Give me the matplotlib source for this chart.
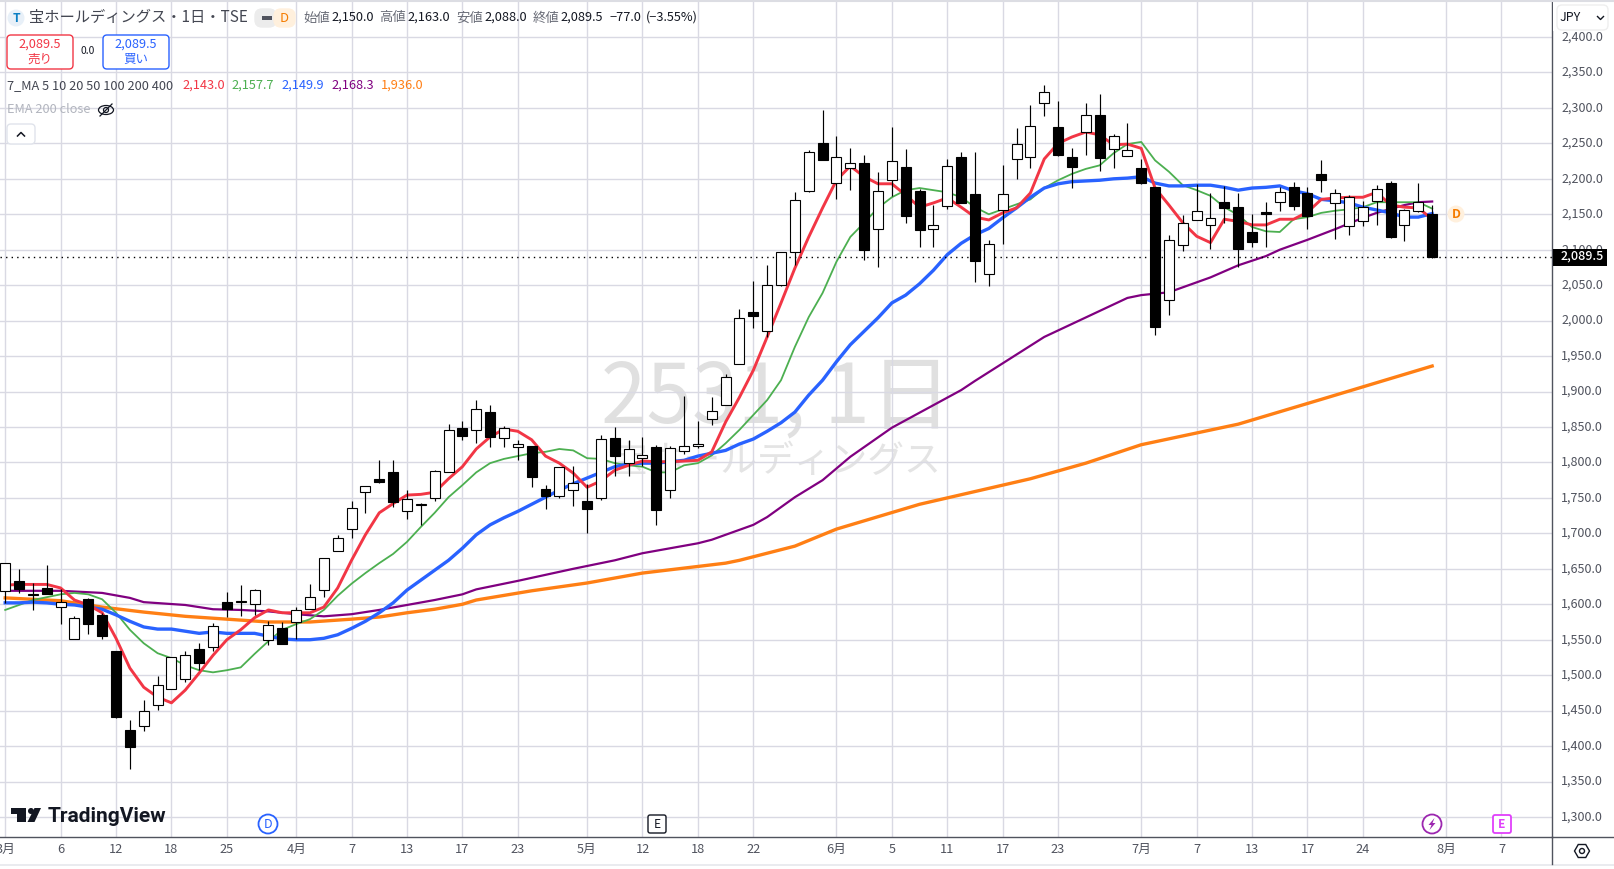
import numpy as np
import matplotlib
matplotlib.use('Agg')
import matplotlib.pyplot as plt
from matplotlib.patches import Circle, FancyBboxPatch, Polygon, Rectangle, RegularPolygon, Ellipse
from matplotlib.transforms import ScaledTranslation

plt.rcParams['font.family'] = ['Noto Sans CJK JP', 'DejaVu Sans']

# daily candles
candle_open = [1619,1633,1613,1623,1596,1551,1607,1585,1534,1423,1428,1458,1480,1495,1537,1540,1603,1603,1600,1550,
               1566,1575,1593,1620,1675,1706,1758,1776,1786,1731,1740,1750,1786,1849,1846,1871,1834,1822,1823,1762,
               1753,1761,1746,1750,1834,1799,1806,1822,1761,1816,1823,1861,1881,1939,2012,1985,2050,2097,2183,2250,
               2194,2215,2222,2129,2198,2217,2183,2129,2162,2231,2179,2066,2156,2228,2231,2307,2273,2231,2266,2290,
               2242,2232,2215,2188,2029,2107,2142,2135,2167,2160,2125,2153,2167,2188,2180,2207,2166,2133,2140,2169,
               2194,2135,2155,2150]
candle_high = [1658,1650,1630,1655,1621,1583,1609,1587,1534,1437,1465,1499,1526,1534,1545,1573,1617,1627,1621,1576,
               1575,1596,1629,1665,1697,1746,1767,1803,1803,1761,1743,1789,1854,1858,1888,1881,1851,1832,1823,1768,
               1794,1795,1770,1839,1850,1832,1836,1825,1823,1894,1858,1892,1925,2016,2056,2078,2097,2181,2241,2297,
               2260,2243,2234,2210,2273,2242,2186,2163,2228,2238,2238,2114,2219,2272,2304,2332,2310,2243,2307,2320,
               2263,2279,2228,2188,2121,2149,2193,2180,2190,2180,2150,2167,2188,2195,2188,2227,2186,2177,2169,2191,
               2197,2158,2194,2163]
candle_low = [1602,1616,1592,1614,1572,1551,1558,1551,1439,1368,1421,1451,1480,1490,1507,1534,1582,1583,1585,1543,
              1544,1551,1593,1610,1675,1693,1729,1771,1737,1720,1712,1746,1786,1832,1827,1822,1822,1803,1765,1734,
              1750,1738,1700,1747,1781,1781,1795,1712,1750,1812,1820,1853,1881,1939,1990,1977,2049,2078,2181,2227,
              2172,2184,2085,2076,2176,2138,2104,2104,2157,2166,2054,2049,2108,2200,2215,2289,2232,2187,2234,2211,
              2215,2232,2192,1980,2008,2098,2142,2101,2138,2076,2104,2104,2155,2156,2129,2181,2115,2121,2133,2135,
              2116,2112,2153,2088]
candle_close = [1658,1621,1614,1614,1603,1581,1572,1555,1441,1399,1449,1486,1526,1528,1517,1569,1593,1604,1620,1571,
                1544,1592,1610,1665,1693,1736,1767,1773,1744,1748,1741,1788,1846,1837,1875,1836,1849,1826,1779,1753,
                1794,1771,1734,1833,1809,1819,1810,1733,1820,1823,1826,1872,1920,2004,2007,2050,2097,2170,2238,2227,
                2231,2222,2100,2183,2225,2147,2128,2135,2218,2166,2084,2108,2179,2249,2274,2322,2234,2217,2290,2229,
                2260,2241,2194,1991,2114,2138,2155,2145,2159,2101,2111,2151,2181,2162,2148,2198,2180,2174,2160,2186,
                2118,2156,2167,2089.5]

ma_red = [1627,1628,1628,1628,1623,1606,1599,1588,1552,1510,1483,1469,1461,1479,1503,1528,1550,1564,1581,1592,
          1588,1588,1588,1596,1623,1662,1698,1729,1742,1754,1755,1758,1777,1794,1819,1836,1847,1844,1832,1809,
          1799,1785,1765,1774,1789,1796,1802,1801,1801,1802,1803,1815,1857,1892,1930,1977,2025,2074,2118,2159,
          2198,2218,2203,2193,2193,2177,2160,2166,2173,2160,2146,2142,2152,2159,2180,2228,2250,2259,2266,2262,
          2248,2249,2243,2187,2163,2138,2119,2110,2143,2140,2135,2135,2143,2143,2153,2171,2173,2174,2174,2181,
          2163,2160,2159,2143]
ma_green = [1592,1599,1606,1610,1614,1616,1614,1607,1588,1564,1545,1531,1524,1514,1507,1504,1507,1511,1530,1548,
            1564,1572,1579,1592,1612,1629,1644,1658,1671,1688,1709,1729,1751,1768,1786,1799,1805,1809,1813,1815,
            1819,1817,1806,1805,1799,1796,1794,1786,1786,1796,1799,1810,1827,1846,1867,1888,1916,1963,2005,2039,
            2083,2118,2138,2159,2174,2184,2187,2184,2181,2174,2160,2150,2157,2164,2171,2187,2198,2207,2214,2219,
            2236,2249,2252,2226,2210,2191,2184,2176,2160,2149,2132,2126,2125,2143,2146,2152,2155,2157,2160,2167,
            2167,2167,2167,2158]
ma_blue = [1602,1602,1603,1602,1600,1599,1596,1593,1585,1576,1568,1565,1565,1562,1559,1561,1559,1559,1559,1555,
           1551,1550,1550,1552,1557,1566,1576,1588,1602,1620,1634,1648,1662,1679,1698,1712,1722,1731,1741,1751,
           1761,1770,1778,1786,1794,1798,1799,1799,1801,1803,1809,1813,1817,1826,1833,1844,1856,1871,1895,1916,
           1942,1966,1985,2004,2025,2036,2052,2071,2093,2109,2121,2130,2145,2159,2174,2187,2193,2196,2197,2198,
           2200,2201,2203,2194,2190,2190,2191,2191,2188,2184,2187,2188,2190,2183,2179,2171,2169,2166,2160,2156,
           2152,2146,2146,2151]
ma_purple_day = [0,4,7,9,10,13,15,17,19,21,23,25,27,29,31,33,34,37,41,44,46,48,50,51,52,54,55,57,59,61,64,69,70,75,
                 81,82,84,86,87,89,91,92,94,96,98,99,101,102,103]
ma_purple = [1619,1619,1616,1609,1603,1599,1593,1592,1590,1586,1583,1586,1592,1599,1606,1614,1621,1633,1650,1662,
             1672,1679,1686,1691,1698,1712,1723,1751,1775,1808,1849,1902,1915,1977,
             2032,2036,2040,2054,2061,2078,2091,2100,2114,2129,2145,2152,2163,2167,2168]
ma_orange_day = [0,4,7,10,13,16,19,22,25,27,29,31,33,34,38,42,46,52,53,57,60,66,74,78,82,89,95,103]
ma_orange = [1609,1605,1596,1589,1583,1579,1575,1575,1579,1582,1588,1593,1600,1606,1619,1630,1644,1658,1662,1682,
             1706,1741,1777,1799,1825,1854,1889,1936]

price_ticks = np.arange(1300, 2401, 50)
date_ticks = [0,4,8,12,16,21,25,29,33,37,42,46,50,54,60,64,68,72,76,82,86,90,94,98,104,108]
date_labels = ['3月','6','12','18','25','4月','7','13','17','23','5月','12','18','22','6月','5','11','17','23',
               '7月','7','13','17','24','8月','7']

red, green, blue, purple, orange = '#f23645', '#4caf50', '#2962ff', '#800080', '#ff7f14'
grid_c = '#d9d9e3'
axis_c = '#50535e'
W, H = 1614, 869

fig = plt.figure(figsize=(W/100, H/100), dpi=100, facecolor='white')
ax = fig.add_axes([0, (H-837)/H, 1552/W, (837-2)/H])
ax.set_xlim(-0.375, 111.65)
ax.set_ylim(1300-20*1.4104, 2400+35*1.4104)
ax.set_axisbelow(True)
ax.grid(color=grid_c, lw=1.0)
ax.set_xticks(date_ticks)
ax.set_xticklabels(date_labels)
ax.yaxis.tick_right()
ax.set_yticks(price_ticks)
ax.set_yticklabels([f'{p:,.1f}' for p in price_ticks])
ax.tick_params(axis='y', length=0, pad=6.5, labelsize=9.0, labelcolor='#50535e')
ax.tick_params(axis='x', length=0, pad=4.5, labelsize=9.2, labelcolor='#50535e')
shift_up = ScaledTranslation(0, 1.5/100, fig.dpi_scale_trans)
for t in ax.get_yticklabels():
    t.set_transform(t.get_transform() + shift_up)
for s in ['top', 'left']:
    ax.spines[s].set_visible(False)
for s in ['right', 'bottom']:
    ax.spines[s].set_color(axis_c)
    ax.spines[s].set_linewidth(1.0)

# watermark
ax.text(0.5, 0.5245, '2531, 1日', transform=ax.transAxes, ha='center', va='center',
        fontsize=59, color='#e0e0e0', zorder=0.5)
ax.text(0.5, 0.4495, '宝ホールディングス', transform=ax.transAxes, ha='center', va='center',
        fontsize=26.5, color='#e4e4e4', zorder=0.5)

days = np.arange(len(candle_close))
ax.plot(ma_orange_day, ma_orange, color=orange, lw=2.4, zorder=2)
ax.plot(ma_purple_day, ma_purple, color=purple, lw=1.6, zorder=2.1)
ax.plot(days, ma_green, color=green, lw=1.3, zorder=2.2)
ax.plot(days, ma_blue, color=blue, lw=2.4, zorder=2.3)
ax.plot(days, ma_red, color=red, lw=2.1, zorder=2.4)

o = np.array(candle_open)
c = np.array(candle_close)
ax.vlines(days, candle_low, candle_high, color='black', lw=0.85, zorder=3)
up = c >= o
ax.bar(days, np.abs(c-o), bottom=np.minimum(o, c), width=0.72,
       color=['white' if u else 'black' for u in up], edgecolor='black', linewidth=0.8, zorder=3.1)
ax.axhline(candle_close[-1], color='black', lw=1.0, ls=(0, (1, 3)), zorder=2.8)

# everything below is the TradingView interface, placed in screen pixels
ui = fig.add_axes([0, 0, 1, 1], facecolor='none')
ui.set_xlim(0, W)
ui.set_ylim(H, 0)
ui.axis('off')

def label(x, y, s, color='#131722', size=9.0, ha='left', **kw):
    ui.text(x, y, s, color=color, fontsize=size, ha=ha, va='center', **kw)

def rbox(x0, y0, x1, y1, ec, fc='white', r=4, lw=1.0):
    ui.add_patch(FancyBboxPatch((x0, y0), x1-x0, y1-y0, boxstyle=f'round,pad=0,rounding_size={r}',
                                ec=ec, fc=fc, lw=lw))

ui.plot([0, W], [1, 1], color='#dcdde3', lw=1.5)
ui.plot([0, W], [865, 865], color='#e6e7ec', lw=1.2)
ui.plot([1552, 1552], [837, 864], color=axis_c, lw=1.0)
ui.plot([1552, W], [837, 837], color=axis_c, lw=1.0)

# header
ui.add_patch(Circle((16, 18), 8.5, fc='#e8f0f8', ec='none'))
label(16, 18, 'T', color='#0b7fc4', size=8.8, ha='center', weight='bold')
label(29, 17.5, '宝ホールディングス・1日・TSE', color='#434651', size=11.0)
rbox(255, 9, 276, 27, '#ececec', fc='#ececec', r=7)
rbox(274, 9, 295, 27, '#fff0dd', fc='#fff0dd', r=7)
ui.add_patch(Rectangle((262, 15.5), 10, 4, fc='#50535e', ec='none'))
label(284, 18, 'D', color='#f57c00', size=9.4, ha='center')
for x, s in [(303, '始値'), (379, '高値'), (456, '安値'), (533, '終値')]:
    label(x, 17.5, s, color='#6a6d78', size=9.6)
for x, s in [(331, '2,150.0'), (407, '2,163.0'), (484, '2,088.0'), (560, '2,089.5'), (610, '−77.0'), (646, '(−3.55%)')]:
    label(x, 17.5, s, size=9.2)

rbox(7, 35, 73, 69, red)
label(40, 44, '2,089.5', color=red, size=9.2, ha='center')
label(40, 59, '売り', color=red, size=9.0, ha='center')
label(88, 51, '0.0', size=7.4, ha='center')
rbox(103, 35, 169, 69, blue)
label(136, 44, '2,089.5', color=blue, size=9.2, ha='center')
label(136, 59, '買い', color=blue, size=9.0, ha='center')

label(7, 85.5, '7_MA 5 10 20 50 100 200 400', color='#434651', size=9.2)
for x, s, col in [(182, '2,143.0', red), (231, '2,157.7', green), (281, '2,149.9', blue),
                  (331, '2,168.3', purple), (381, '1,936.0', orange)]:
    label(x, 85.5, s, color=col, size=9.2)
label(7, 109.5, 'EMA 200 close', color='#b2b5be', size=9.2)
ui.add_patch(Ellipse((106, 110), 15, 9, fc='none', ec='#131722', lw=0.9))
ui.add_patch(Circle((106, 110), 2.5, fc='none', ec='#131722', lw=0.9))
ui.plot([100, 112], [116, 104], color='#131722', lw=0.9)
rbox(7, 124, 35, 144, '#e0e3eb')
ui.plot([17.5, 21, 24.5], [136, 132.5, 136], color='#131722', lw=1.1)

# scale widgets
ui.add_patch(Rectangle((1553, 2), 61, 29, fc='white', ec='none'))
rbox(1557, 5, 1608, 30, '#eeeeee', r=5)
label(1560, 17.5, 'JPY', color='#131722', size=9.0)
ui.plot([1597.5, 1600.5, 1603.5], [16.5, 19.5, 16.5], color='#131722', lw=1.0)
ui.add_patch(Rectangle((1553, 249), 54, 16.5, fc='black', ec='none'))
label(1561, 256.5, '2,089.5', color='white', size=9.0, weight='medium')

ui.add_patch(Circle((1456, 214), 8.5, fc='#fff0dd', ec='none'))
label(1456, 214, 'D', color='#f57c00', size=9.0, ha='center', weight='bold')

# event badges along the time axis
ui.add_patch(Circle((268, 824), 9.5, fc='white', ec=blue, lw=1.3))
label(268, 824, 'D', color=blue, size=9.0, ha='center')
rbox(648, 815, 666, 833, '#131722', r=2, lw=1.0)
label(657, 824, 'E', color='#131722', size=8.6, ha='center')
ui.add_patch(Circle((1432, 824), 9.5, fc='white', ec='#9c27b0', lw=1.3))
ui.add_patch(Polygon([(1434.5, 818), (1428.5, 825), (1431.5, 825), (1429.5, 830), (1435.5, 823), (1432.5, 823)],
                     fc='#9c27b0', ec='none'))
rbox(1493, 815, 1511, 833, '#e040fb', r=2, lw=1.3)
label(1502, 824, 'E', color='#e040fb', size=8.6, ha='center', weight='bold')

ui.add_patch(RegularPolygon((1582, 851), 6, radius=7.5, orientation=np.pi/6, fc='white', ec='#131722', lw=1.0))
ui.add_patch(Circle((1582, 851), 2.5, fc='white', ec='#131722', lw=1.0))

# logo
ui.add_patch(Polygon([(11, 808), (26, 808), (26, 822), (17, 822), (17, 814), (11, 814)], fc='#131722', ec='none'))
ui.add_patch(Circle((31, 811), 3.0, fc='#131722', ec='none'))
ui.add_patch(Polygon([(34.5, 808), (41, 808), (34.5, 822), (27.5, 822)], fc='#131722', ec='none'))
ui.text(47.5, 816.5, 'TradingView', color='#131722', fontsize=15, family='Roboto', weight='bold', va='center', ha='left')

fig.savefig('out.png', dpi=100)
